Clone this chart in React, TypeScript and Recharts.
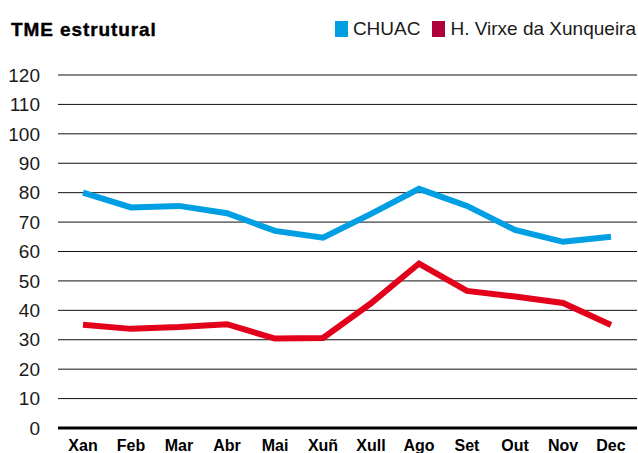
import { LineChart, Line, XAxis, YAxis, CartesianGrid, ReferenceLine } from 'recharts';

const months = ['Xan', 'Feb', 'Mar', 'Abr', 'Mai', 'Xuñ', 'Xull', 'Ago', 'Set', 'Out', 'Nov', 'Dec'];
const chuac = [80, 75, 75.5, 73, 67, 64.7, 72.8, 81.3, 75.5, 67.3, 63.3, 65];
const xunqueira = [35.1, 33.7, 34.3, 35.3, 30.4, 30.6, 42.4, 55.9, 46.6, 44.7, 42.5, 35];
const yTicks = [0, 10, 20, 30, 40, 50, 60, 70, 80, 90, 100, 110, 120];

const seriesInfo = [
  { name: 'CHUAC', color: '#009ee2', swatch: '#009ee2' },
  { name: 'H. Virxe da Xunqueira', color: '#e2001a', swatch: '#b0003a' },
];

const data = months.map((m, i) => ({ month: m, chuac: chuac[i], xunqueira: xunqueira[i] }));

const font = '"Liberation Sans", Arial, Helvetica, sans-serif';

export default function App() {
  return (
    <div style={{ position: 'absolute', left: 0, top: 0, width: 638, height: 453, background: '#fff', overflow: 'hidden' }}>
      <div
        style={{
          position: 'absolute',
          left: 11,
          top: 19,
          fontFamily: font,
          fontWeight: 700,
          fontSize: 19,
          letterSpacing: 0.9,
          color: '#000',
          WebkitTextStroke: '0.4px #000',
        }}
      >
        TME estrutural
      </div>
      {/* legend drawn as html so it does not eat into the plot margins */}
      <div
        style={{
          position: 'absolute',
          right: 2,
          top: 18,
          display: 'flex',
          alignItems: 'center',
          fontFamily: font,
          fontSize: 19,
          color: '#1a1a1a',
        }}
      >
        {seriesInfo.map((s, i) => (
          <span key={s.name} style={{ display: 'flex', alignItems: 'center', marginLeft: i ? 12 : 0 }}>
            <span style={{ display: 'inline-block', width: 13, height: 16, background: s.swatch, marginRight: 5 }} />
            {s.name}
          </span>
        ))}
      </div>
      <LineChart width={638} height={453} data={data} margin={{ top: 75, right: 1, bottom: 0, left: 0 }}>
        <CartesianGrid horizontal vertical={false} stroke="#111" strokeWidth={1} />
        <XAxis
          dataKey="month"
          height={25}
          axisLine={false}
          tickLine={false}
          tickMargin={6}
          padding={{ left: 25, right: 26 }}
          interval={0}
          tick={{ fontFamily: font, fontSize: 16, fontWeight: 700, fill: '#000' }}
        />
        <YAxis
          domain={[0, 120]}
          ticks={yTicks}
          width={58}
          axisLine={false}
          tickLine={false}
          tickMargin={12}
          interval={0}
          tick={{ fontFamily: font, fontSize: 19, fill: '#1a1a1a' }}
        />
        <ReferenceLine y={0} stroke="#000" strokeWidth={3} />
        <Line
          dataKey="chuac"
          name="CHUAC"
          stroke={seriesInfo[0].color}
          strokeWidth={6}
          dot={false}
          activeDot={false}
          isAnimationActive={false}
        />
        <Line
          dataKey="xunqueira"
          name="H. Virxe da Xunqueira"
          stroke={seriesInfo[1].color}
          strokeWidth={6}
          dot={false}
          activeDot={false}
          isAnimationActive={false}
        />
      </LineChart>
    </div>
  );
}
